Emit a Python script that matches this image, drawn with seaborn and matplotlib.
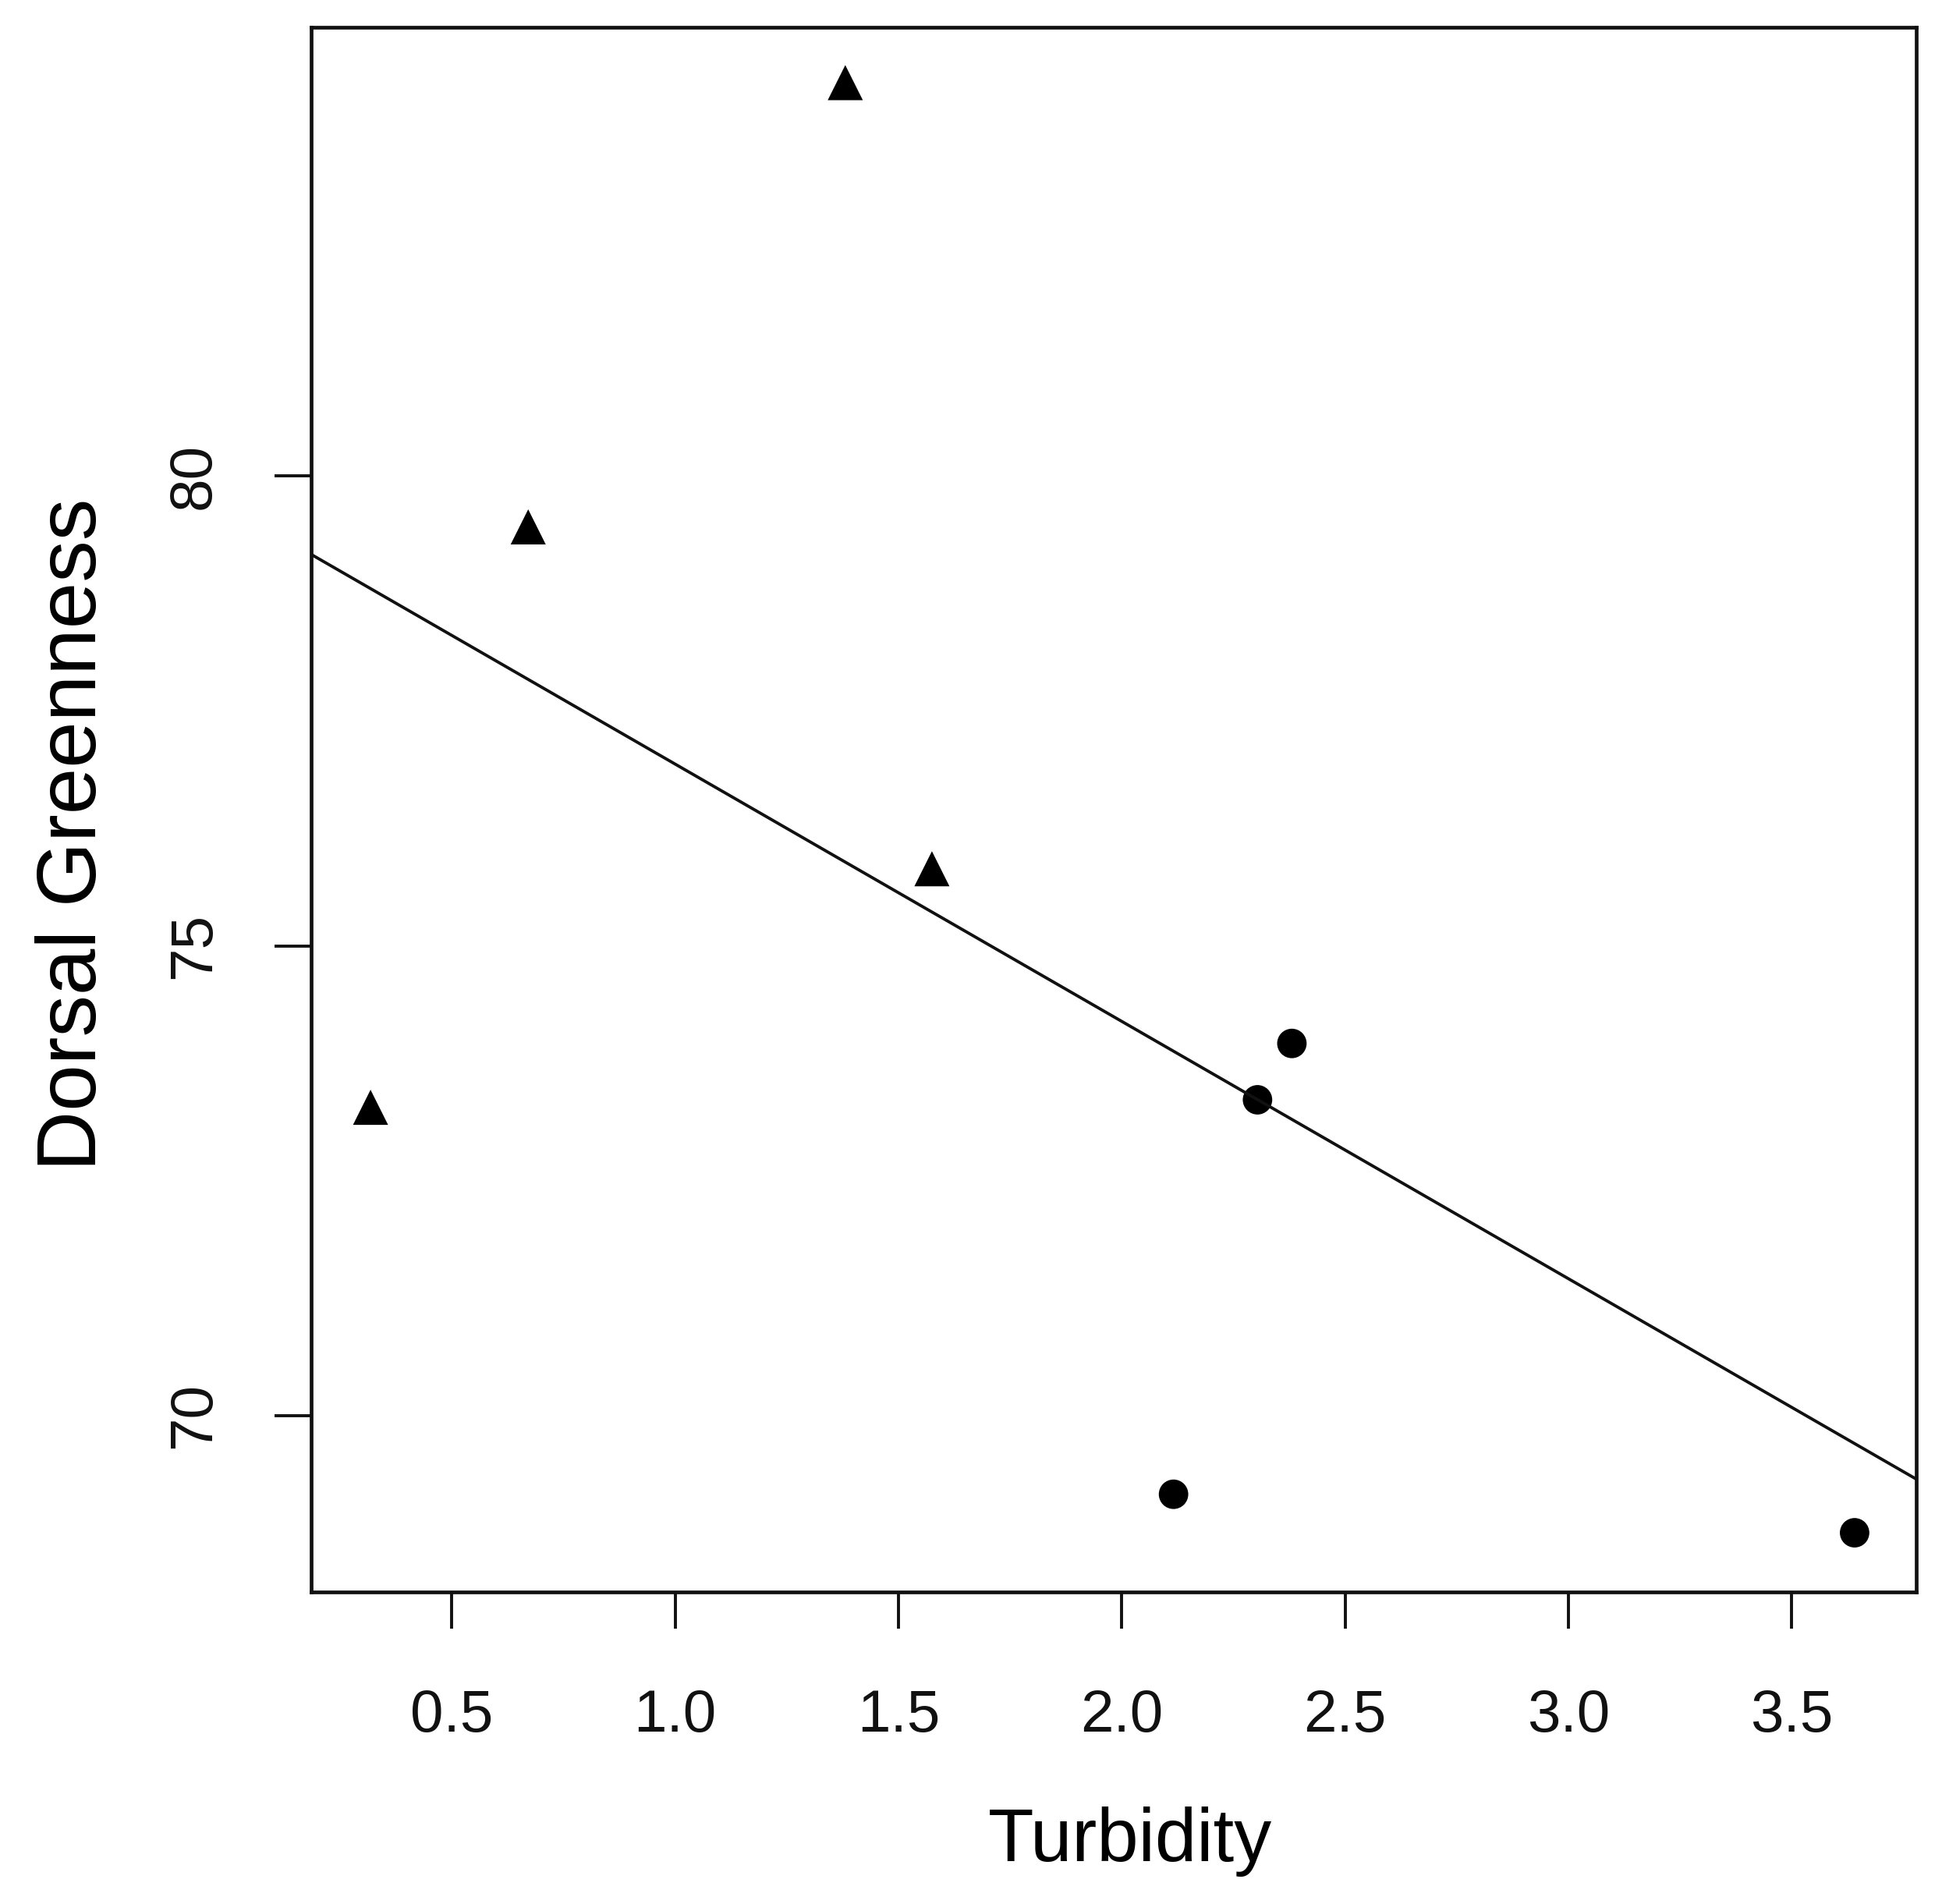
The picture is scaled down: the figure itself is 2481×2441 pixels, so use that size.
import numpy as np
import pandas as pd
import seaborn as sns
import matplotlib
matplotlib.use("Agg")
import matplotlib.pyplot as plt

# values
turbidity_tri = [0.318, 0.671, 1.381, 1.575]
greenness_tri = [73.28, 79.46, 84.19, 75.82]
turbidity_dot = [2.116, 2.304, 2.381, 3.641]
greenness_dot = [69.16, 73.36, 73.96, 68.75]
group_tri = "clear"
group_dot = "turbid"

xticks = [0.5, 1.0, 1.5, 2.0, 2.5, 3.0, 3.5]
yticks = [70, 75, 80]

df = pd.DataFrame({
    "Turbidity": turbidity_tri + turbidity_dot,
    "Dorsal Greenness": greenness_tri + greenness_dot,
    "group": [group_tri] * len(turbidity_tri) + [group_dot] * len(turbidity_dot),
})

sns.set_style("white")
plt.rcParams["font.family"] = ["Liberation Sans", "DejaVu Sans"]
plt.rcParams["text.color"] = "black"
plt.rcParams["axes.labelcolor"] = "black"

fig = plt.figure(figsize=(24.81, 24.41), dpi=100)
ax = fig.add_axes([0.1608, 0.1639, 0.8295, 0.8218])

ax.set_xlim(0.185, 3.779)
ax.set_ylim(68.12, 84.78)

# regression line across the whole x range
sns.regplot(data=df, x="Turbidity", y="Dorsal Greenness", ax=ax,
            scatter=False, ci=None, truncate=False,
            line_kws={"color": "#111111", "linewidth": 2.8})

sns.scatterplot(data=df, x="Turbidity", y="Dorsal Greenness", ax=ax,
                style="group", markers={group_tri: "^", group_dot: "o"},
                color="black", linewidth=0, legend=False,
                size="group", sizes={group_tri: 1050, group_dot: 740})

ax.set_xlim(0.185, 3.779)
ax.set_ylim(68.12, 84.78)

ax.set_xticks(xticks)
ax.set_xticklabels([f"{t:.1f}" for t in xticks])
ax.set_yticks(yticks)
ax.set_yticklabels([str(t) for t in yticks], rotation=90, va="center")

ax.tick_params(axis="both", direction="out", length=34, width=2.8,
               color="#111111", labelsize=55, labelcolor="#111111")
ax.tick_params(axis="x", pad=55)
ax.tick_params(axis="y", pad=48)
ax.xaxis.set_ticks_position("bottom")
ax.yaxis.set_ticks_position("left")

for sp in ax.spines.values():
    sp.set_visible(True)
    sp.set_color("#111111")
    sp.set_linewidth(3.4)

ax.set_xlabel("Turbidity", fontsize=69, labelpad=58)
ax.set_ylabel("Dorsal Greenness", fontsize=77, labelpad=50)
ax.xaxis.label.set_x(0.51)
ax.yaxis.label.set_y(0.484)

fig.savefig("out.png", dpi=100, facecolor="white")
